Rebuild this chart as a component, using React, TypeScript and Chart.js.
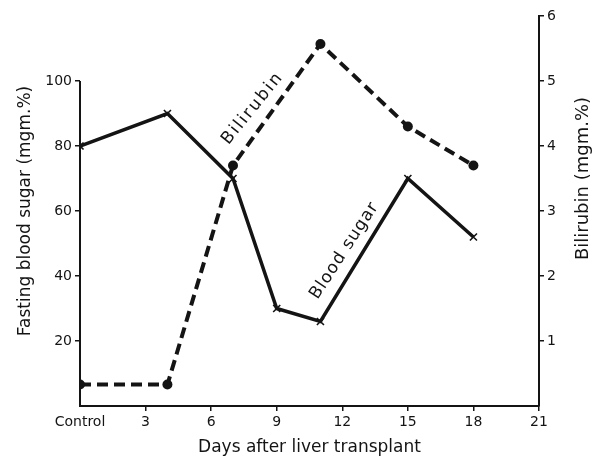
import React, { useEffect, useRef } from 'react';
import { Chart, registerables } from 'chart.js';

Chart.register(...registerables);

const sugarDays = [0, 4, 7, 9, 11, 15, 18];
const bloodSugar = [80, 90, 70, 30, 26, 70, 52];
const bilirubinDays = [0, 4, 7, 11, 15, 18];
const bilirubin = [0.33, 0.33, 3.7, 5.57, 4.3, 3.7];
const xTicks = [0, 3, 6, 9, 12, 15, 18, 21];
const xTickLabels = ['Control', '3', '6', '9', '12', '15', '18', '21'];
const sugarTicks = [20, 40, 60, 80, 100];
const bilirubinTicks = [1, 2, 3, 4, 5, 6];

const INK = '#141414';
const FONT = '"DejaVu Sans", sans-serif';

const overlay = {
  id: 'overlay',
  afterDatasetsDraw(chart: any) {
    const { ctx, scales, chartArea } = chart;
    const x = scales.x;
    const yl = scales.ySugar;
    const yr = scales.yBili;
    ctx.save();
    // left axis line only up to 100
    ctx.strokeStyle = INK;
    ctx.lineWidth = 2;
    ctx.beginPath();
    ctx.moveTo(x.getPixelForValue(0), yl.getPixelForValue(0));
    ctx.lineTo(x.getPixelForValue(0), yl.getPixelForValue(sugarTicks[sugarTicks.length - 1]));
    ctx.stroke();
    ctx.fillStyle = INK;
    ctx.textAlign = 'center';
    ctx.textBaseline = 'middle';
    // in-chart labels
    ctx.font = `17px ${FONT}`;
    ctx.save();
    (ctx as any).letterSpacing = '2px';
    ctx.translate(x.getPixelForValue(7.9), yr.getPixelForValue(4.58));
    ctx.rotate((-51 * Math.PI) / 180);
    ctx.fillText('Bilirubin', 0, 0);
    ctx.restore();
    ctx.save();
    (ctx as any).letterSpacing = '1px';
    ctx.translate(x.getPixelForValue(12.1), yl.getPixelForValue(47.8));
    ctx.rotate((-57 * Math.PI) / 180);
    ctx.fillText('Blood sugar', 0, 0);
    ctx.restore();
    // right axis title, reading bottom-to-top
    ctx.save();
    ctx.font = `18px ${FONT}`;
    ctx.translate(chartArea.right + 44, yr.getPixelForValue(3.5));
    ctx.rotate(-Math.PI / 2);
    ctx.fillText('Bilirubin (mgm.%)', 0, 0);
    ctx.restore();
    ctx.restore();
  },
};

export default function App() {
  const ref = useRef<HTMLCanvasElement>(null);
  useEffect(() => {
    if (!ref.current) return;
    const chart = new Chart(ref.current, {
      type: 'line',
      data: {
        datasets: [
          {
            label: 'Blood sugar',
            data: sugarDays.map((d, i) => ({ x: d, y: bloodSugar[i] })),
            yAxisID: 'ySugar',
            borderColor: INK,
            borderWidth: 3.5,
            pointStyle: 'crossRot',
            pointRadius: 5,
            pointBorderWidth: 1.6,
            pointBorderColor: INK,
            pointBackgroundColor: INK,
            tension: 0,
          },
          {
            label: 'Bilirubin',
            data: bilirubinDays.map((d, i) => ({ x: d, y: bilirubin[i] })),
            yAxisID: 'yBili',
            borderColor: INK,
            borderWidth: 4,
            borderDash: [11, 6],
            pointStyle: 'circle',
            pointRadius: 5,
            pointBorderWidth: 0,
            pointBackgroundColor: INK,
            tension: 0,
          },
        ],
      },
      options: {
        animation: false,
        responsive: false,
        layout: { padding: { top: 16, left: 0, right: 0, bottom: 0 } },
        plugins: { legend: { display: false }, tooltip: { enabled: false } },
        scales: {
          x: {
            type: 'linear',
            min: 0,
            max: 21,
            afterBuildTicks: (s: any) => {
              s.ticks = xTicks.map((v) => ({ value: v }));
            },
            afterFit: (s: any) => {
              s.height = 56;
            },
            ticks: {
              color: INK,
              font: { family: FONT, size: 14 },
              padding: 3,
              maxRotation: 0,
              autoSkip: false,
              callback: (v: any) => xTickLabels[xTicks.indexOf(Number(v))] ?? '',
            },
            grid: {
              drawOnChartArea: false,
              drawTicks: true,
              tickLength: 5,
              color: (c: any) => (c.tick && c.tick.value === 0 ? 'rgba(0,0,0,0)' : INK),
              lineWidth: 1.5,
            },
            border: { display: true, color: INK, width: 2 },
            title: {
              display: true,
              text: 'Days after liver transplant',
              color: INK,
              font: { family: FONT, size: 17 },
              padding: { top: 0, bottom: 4 },
            },
          },
          ySugar: {
            type: 'linear',
            position: 'left',
            min: 0,
            max: 120,
            afterBuildTicks: (s: any) => {
              s.ticks = sugarTicks.map((v) => ({ value: v }));
            },
            afterFit: (s: any) => {
              s.width = 80;
            },
            ticks: {
              color: INK,
              font: { family: FONT, size: 14 },
              padding: 3,
            },
            grid: {
              drawOnChartArea: false,
              drawTicks: true,
              tickLength: 5,
              color: INK,
              lineWidth: 1.5,
            },
            border: { display: false },
            title: {
              display: true,
              text: 'Fasting blood sugar (mgm.%)',
              color: INK,
              font: { family: FONT, size: 17 },
              padding: { top: 15, bottom: 0 },
            },
          },
          yBili: {
            type: 'linear',
            position: 'right',
            min: 0,
            max: 6,
            afterBuildTicks: (s: any) => {
              s.ticks = bilirubinTicks.map((v) => ({ value: v }));
            },
            afterFit: (s: any) => {
              s.width = 56;
            },
            ticks: {
              color: INK,
              font: { family: FONT, size: 14 },
              padding: 3,
            },
            grid: {
              drawOnChartArea: false,
              drawTicks: true,
              tickLength: 5,
              color: INK,
              lineWidth: 1.5,
            },
            border: { display: true, color: INK, width: 2 },
            title: { display: false },
          },
        },
      },
      plugins: [overlay],
    } as any);
    return () => chart.destroy();
  }, []);
  return (
    <div style={{ position: 'fixed', left: 0, top: 0, width: 595, height: 462, background: '#fff' }}>
      <canvas ref={ref} width={595} height={462} />
    </div>
  );
}
